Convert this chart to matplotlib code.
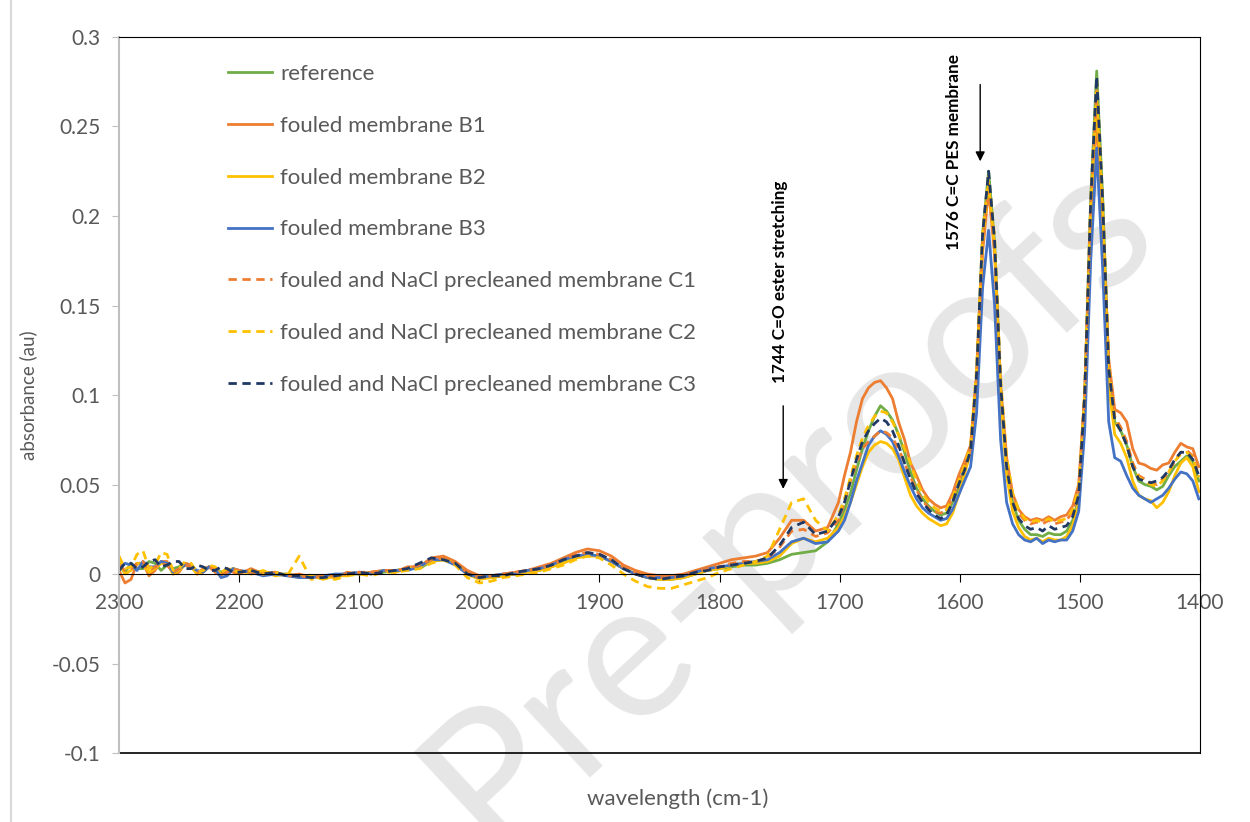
import numpy as np
import matplotlib.pyplot as plt
from matplotlib.ticker import FuncFormatter

# wavenumber grid (cm-1): fine on the noisy start, coarse on the flat part, fine over the bands
wavenumber = (list(range(2300, 2204, -5)) + list(range(2200, 1709, -10))
              + list(range(1701, 1400, -5)))

reference = [
    0.004, 0.001, 0.006, 0.003, 0.003, 0.007, 0.006, 0.002, 0.005, 0.003,
    0.004, 0.006, 0.005, 0.001, 0.002, 0.004, 0.003, 0.001, 0.002, 0.003,
    0.001, 0.002, 0.001, 0.000, 0.000, -0.001, -0.001, -0.002, -0.001, 0.000,
    0.000, 0.001, 0.001, 0.002, 0.003, 0.003, 0.007, 0.008, 0.006, 0.001,
    -0.002, -0.002, -0.001, 0.000, 0.001, 0.002, 0.004, 0.007, 0.009, 0.011,
    0.010, 0.007, 0.003, 0.000, -0.002, -0.003, -0.003, -0.002, 0.000, 0.002,
    0.003, 0.004, 0.005, 0.005, 0.006, 0.008, 0.011, 0.012, 0.013, 0.018,
    0.028, 0.036, 0.045, 0.058, 0.070, 0.080, 0.088, 0.094, 0.091, 0.086,
    0.078, 0.068, 0.057, 0.048, 0.042, 0.038, 0.035, 0.033, 0.034, 0.040,
    0.048, 0.060, 0.070, 0.110, 0.190, 0.225, 0.185, 0.105, 0.058, 0.040,
    0.030, 0.025, 0.022, 0.022, 0.021, 0.023, 0.022, 0.022, 0.024, 0.030,
    0.042, 0.100, 0.210, 0.281, 0.210, 0.115, 0.085, 0.080, 0.072, 0.060,
    0.052, 0.050, 0.049, 0.047, 0.049, 0.055, 0.060, 0.063, 0.066, 0.063,
    0.052,
]

fouled_b1 = [
    0.002, -0.005, -0.003, 0.006, 0.006, -0.001, 0.002, 0.007, 0.007, 0.000,
    0.001, 0.006, 0.005, 0.000, 0.003, 0.004, 0.001, -0.001, 0.003, 0.001,
    0.000, 0.003, 0.000, 0.001, -0.001, 0.000, -0.002, -0.001, -0.002, 0.001,
    0.000, 0.001, 0.002, 0.001, 0.004, 0.004, 0.009, 0.010, 0.007, 0.002,
    -0.001, -0.001, 0.000, 0.001, 0.002, 0.004, 0.006, 0.009, 0.012, 0.014,
    0.013, 0.010, 0.005, 0.002, 0.000, -0.001, -0.001, 0.000, 0.002, 0.004,
    0.006, 0.008, 0.009, 0.010, 0.012, 0.020, 0.030, 0.030, 0.024, 0.026,
    0.040, 0.055, 0.068, 0.085, 0.098, 0.104, 0.107, 0.108, 0.104, 0.098,
    0.085, 0.075, 0.062, 0.055, 0.047, 0.042, 0.039, 0.037, 0.038, 0.045,
    0.055, 0.063, 0.072, 0.110, 0.180, 0.215, 0.180, 0.105, 0.065, 0.045,
    0.036, 0.032, 0.030, 0.031, 0.030, 0.032, 0.030, 0.032, 0.033, 0.038,
    0.050, 0.100, 0.195, 0.255, 0.195, 0.120, 0.092, 0.090, 0.085, 0.070,
    0.062, 0.061, 0.059, 0.058, 0.061, 0.062, 0.068, 0.073, 0.071, 0.070,
    0.060,
]

fouled_b2 = [
    0.007, 0.000, 0.002, 0.006, 0.005, 0.001, 0.003, 0.006, 0.006, 0.000,
    0.002, 0.005, 0.004, 0.000, 0.001, 0.004, 0.003, 0.000, 0.001, 0.003,
    0.002, 0.000, 0.002, -0.001, 0.000, -0.002, -0.001, -0.003, -0.001, -0.001,
    0.001, 0.000, 0.002, 0.001, 0.003, 0.004, 0.007, 0.008, 0.006, 0.000,
    -0.003, -0.002, -0.001, 0.000, 0.001, 0.002, 0.004, 0.006, 0.009, 0.010,
    0.010, 0.007, 0.003, 0.000, -0.002, -0.003, -0.003, -0.002, 0.000, 0.002,
    0.003, 0.005, 0.006, 0.006, 0.007, 0.010, 0.017, 0.020, 0.018, 0.020,
    0.026, 0.032, 0.040, 0.050, 0.060, 0.068, 0.072, 0.074, 0.073, 0.070,
    0.064, 0.054, 0.044, 0.038, 0.034, 0.031, 0.029, 0.027, 0.028, 0.034,
    0.044, 0.056, 0.068, 0.110, 0.185, 0.218, 0.182, 0.100, 0.055, 0.035,
    0.026, 0.021, 0.019, 0.020, 0.018, 0.020, 0.019, 0.019, 0.021, 0.027,
    0.040, 0.095, 0.200, 0.265, 0.200, 0.105, 0.078, 0.073, 0.065, 0.052,
    0.044, 0.042, 0.041, 0.037, 0.040, 0.046, 0.055, 0.062, 0.065, 0.060,
    0.046,
]

fouled_b3 = [
    0.003, 0.006, 0.005, 0.002, 0.007, 0.004, 0.004, 0.007, 0.006, 0.001,
    0.003, 0.005, 0.004, 0.002, 0.001, 0.004, 0.003, -0.002, -0.001, 0.003,
    0.002, 0.001, -0.001, 0.000, -0.001, -0.002, -0.002, -0.001, 0.000, 0.000,
    0.001, 0.000, 0.002, 0.002, 0.002, 0.004, 0.008, 0.008, 0.005, 0.000,
    -0.002, -0.001, 0.000, 0.000, 0.002, 0.003, 0.005, 0.008, 0.010, 0.011,
    0.010, 0.007, 0.003, 0.000, -0.002, -0.002, -0.002, -0.001, 0.001, 0.003,
    0.004, 0.005, 0.006, 0.007, 0.008, 0.012, 0.018, 0.020, 0.017, 0.018,
    0.024, 0.030, 0.040, 0.052, 0.062, 0.072, 0.077, 0.080, 0.078, 0.074,
    0.066, 0.057, 0.049, 0.042, 0.037, 0.034, 0.032, 0.030, 0.031, 0.036,
    0.044, 0.052, 0.060, 0.090, 0.160, 0.192, 0.150, 0.075, 0.040, 0.028,
    0.022, 0.019, 0.018, 0.020, 0.017, 0.019, 0.018, 0.019, 0.019, 0.024,
    0.035, 0.080, 0.175, 0.238, 0.170, 0.085, 0.065, 0.063, 0.055, 0.048,
    0.044, 0.042, 0.040, 0.042, 0.044, 0.048, 0.053, 0.057, 0.056, 0.052,
    0.042,
]

cleaned_c1 = [
    0.005, 0.002, 0.003, 0.006, 0.007, 0.002, 0.004, 0.006, 0.005, 0.001,
    0.003, 0.005, 0.004, 0.001, 0.002, 0.004, 0.003, 0.000, 0.001, 0.003,
    0.002, 0.001, 0.000, 0.001, -0.001, -0.001, -0.002, -0.001, -0.001, 0.000,
    0.001, 0.001, 0.002, 0.002, 0.003, 0.005, 0.008, 0.009, 0.006, 0.001,
    -0.002, -0.001, 0.000, 0.001, 0.002, 0.003, 0.005, 0.008, 0.011, 0.012,
    0.011, 0.008, 0.004, 0.001, -0.001, -0.002, -0.002, -0.001, 0.001, 0.003,
    0.004, 0.006, 0.007, 0.007, 0.009, 0.015, 0.024, 0.025, 0.021, 0.023,
    0.030, 0.040, 0.052, 0.062, 0.070, 0.074, 0.077, 0.080, 0.079, 0.076,
    0.070, 0.062, 0.054, 0.047, 0.041, 0.037, 0.035, 0.034, 0.036, 0.042,
    0.052, 0.060, 0.070, 0.112, 0.185, 0.215, 0.180, 0.105, 0.062, 0.043,
    0.034, 0.030, 0.028, 0.029, 0.028, 0.030, 0.028, 0.029, 0.030, 0.035,
    0.047, 0.100, 0.205, 0.270, 0.205, 0.115, 0.088, 0.082, 0.074, 0.062,
    0.055, 0.053, 0.051, 0.050, 0.053, 0.057, 0.063, 0.068, 0.069, 0.066,
    0.055,
]

cleaned_c2 = [
    0.010, 0.003, 0.004, 0.011, 0.013, 0.003, 0.005, 0.012, 0.011, 0.002,
    0.003, 0.007, 0.006, 0.001, 0.002, 0.005, 0.004, 0.001, 0.003, 0.002,
    0.001, 0.002, 0.000, 0.001, -0.001, 0.010, -0.003, -0.002, -0.003, -0.001,
    0.000, -0.001, 0.001, 0.001, 0.002, 0.003, 0.006, 0.008, 0.005, -0.002,
    -0.005, -0.004, -0.002, -0.001, 0.000, 0.001, 0.003, 0.005, 0.008, 0.010,
    0.009, 0.005, 0.000, -0.004, -0.007, -0.008, -0.008, -0.006, -0.004, -0.002,
    0.001, 0.003, 0.005, 0.007, 0.010, 0.025, 0.040, 0.042, 0.030, 0.024,
    0.033, 0.042, 0.054, 0.066, 0.076, 0.083, 0.088, 0.091, 0.090, 0.085,
    0.078, 0.070, 0.062, 0.052, 0.045, 0.040, 0.037, 0.035, 0.036, 0.043,
    0.052, 0.061, 0.072, 0.115, 0.190, 0.222, 0.188, 0.110, 0.065, 0.045,
    0.036, 0.031, 0.029, 0.030, 0.029, 0.031, 0.029, 0.030, 0.031, 0.036,
    0.048, 0.102, 0.208, 0.275, 0.208, 0.118, 0.086, 0.080, 0.072, 0.060,
    0.054, 0.052, 0.050, 0.049, 0.052, 0.057, 0.063, 0.067, 0.068, 0.065,
    0.054,
]

cleaned_c3 = [
    0.002, 0.006, 0.006, 0.003, 0.004, 0.007, 0.008, 0.004, 0.005, 0.007,
    0.007, 0.003, 0.003, 0.005, 0.004, 0.002, 0.002, 0.004, 0.003, 0.001,
    0.001, 0.002, 0.000, 0.001, -0.001, -0.001, -0.002, -0.002, -0.001, 0.000,
    0.001, 0.000, 0.001, 0.002, 0.003, 0.006, 0.009, 0.008, 0.006, 0.000,
    -0.002, -0.001, -0.001, 0.001, 0.002, 0.003, 0.005, 0.008, 0.010, 0.012,
    0.011, 0.008, 0.003, 0.000, -0.002, -0.003, -0.002, -0.001, 0.001, 0.002,
    0.004, 0.005, 0.006, 0.007, 0.009, 0.016, 0.026, 0.029, 0.022, 0.024,
    0.032, 0.040, 0.052, 0.064, 0.074, 0.080, 0.084, 0.087, 0.085, 0.080,
    0.072, 0.062, 0.053, 0.045, 0.040, 0.036, 0.033, 0.031, 0.033, 0.040,
    0.050, 0.058, 0.069, 0.112, 0.190, 0.225, 0.186, 0.106, 0.060, 0.040,
    0.031, 0.027, 0.025, 0.026, 0.024, 0.027, 0.025, 0.026, 0.027, 0.032,
    0.044, 0.100, 0.208, 0.278, 0.208, 0.115, 0.086, 0.080, 0.072, 0.060,
    0.053, 0.052, 0.051, 0.052, 0.054, 0.058, 0.064, 0.068, 0.068, 0.064,
    0.055,
]

series = [
    ("reference", reference, "#70AD47", "-"),
    ("fouled membrane B1", fouled_b1, "#ED7D31", "-"),
    ("fouled membrane B2", fouled_b2, "#FFC000", "-"),
    ("fouled membrane B3", fouled_b3, "#4472C4", "-"),
    ("fouled and NaCl precleaned membrane C1", cleaned_c1, "#ED7D31", "--"),
    ("fouled and NaCl precleaned membrane C2", cleaned_c2, "#FFC000", "--"),
    ("fouled and NaCl precleaned membrane C3", cleaned_c3, "#203864", "--"),
]

x_ticks = [2300, 2200, 2100, 2000, 1900, 1800, 1700, 1600, 1500, 1400]
y_ticks = [-0.1, -0.05, 0, 0.05, 0.1, 0.15, 0.2, 0.25, 0.3]

plt.rcParams["font.family"] = ["Lato", "DejaVu Sans"]
grey = "#595959"

fig = plt.figure(figsize=(12.5, 8.22), dpi=100)
ax = fig.add_axes([0.0952, 0.0839, 0.8648, 0.8711])
ax.set_facecolor("none")

for label, values, color, style in series:
    line, = ax.plot(wavenumber, values, color=color, lw=2.0, label=label)
    if style == "--":
        line.set_dashes((3, 2))

ax.set_xlim(2300, 1400)
ax.set_ylim(-0.1, 0.3)
ax.set_xticks(x_ticks)
ax.set_yticks(y_ticks)
ax.yaxis.set_major_formatter(FuncFormatter(lambda v, p: f"{v:g}"))

ax.spines["bottom"].set_position(("data", 0))
ax.spines["bottom"].set_color("black")
ax.spines["top"].set_color("black")
ax.spines["right"].set_color("black")
ax.spines["left"].set_color("#BFBFBF")
ax.spines["left"].set_linewidth(1.5)
ax.axhline(-0.1, color="black", lw=1.2, clip_on=False)

ax.tick_params(axis="x", direction="out", length=6, color="black", pad=8,
               labelsize=15, labelcolor=grey)
ax.tick_params(axis="y", direction="out", length=5, color="#BFBFBF", pad=8,
               labelsize=15, labelcolor=grey)

ax.set_xlabel("wavelength (cm-1)", fontsize=16, color=grey)
ax.set_ylabel("absorbance (au)", fontsize=13.5, color=grey)
ax.xaxis.set_label_coords(0.517, -0.05)
ax.yaxis.set_label_coords(-0.076, 0.5)

leg = ax.legend(loc="upper left", bbox_to_anchor=(0.082, 0.99), frameon=False,
                fontsize=16, labelcolor=grey, handlelength=2.0,
                handletextpad=0.36, labelspacing=1.43)

# band annotations
ax.annotate("", xy=(1747, 0.046), xytext=(1747, 0.0955),
            arrowprops=dict(arrowstyle="-|>", color="black", lw=1, mutation_scale=14))
ax.text(1749.7, 0.1635, "1744 C=O ester stretching", rotation=90, ha="center",
        va="center", fontsize=12.3, fontweight="bold", color="black")
ax.annotate("", xy=(1583, 0.229), xytext=(1583, 0.275),
            arrowprops=dict(arrowstyle="-|>", color="black", lw=1, mutation_scale=14))
ax.text(1604.8, 0.236, "1576 C=C PES membrane", rotation=90, ha="center",
        va="center", fontsize=12.3, fontweight="bold", color="black")

# page edge and watermark
fig.add_artist(plt.Line2D([0.009, 0.009], [0, 1], color="#D9D9D9", lw=1.5))
fig.text(0.63, 0.39, "Pre-proofs", rotation=43, fontsize=140, color="#E6E6E6",
         ha="center", va="center", zorder=-1)

fig.savefig("out.png", dpi=100)
